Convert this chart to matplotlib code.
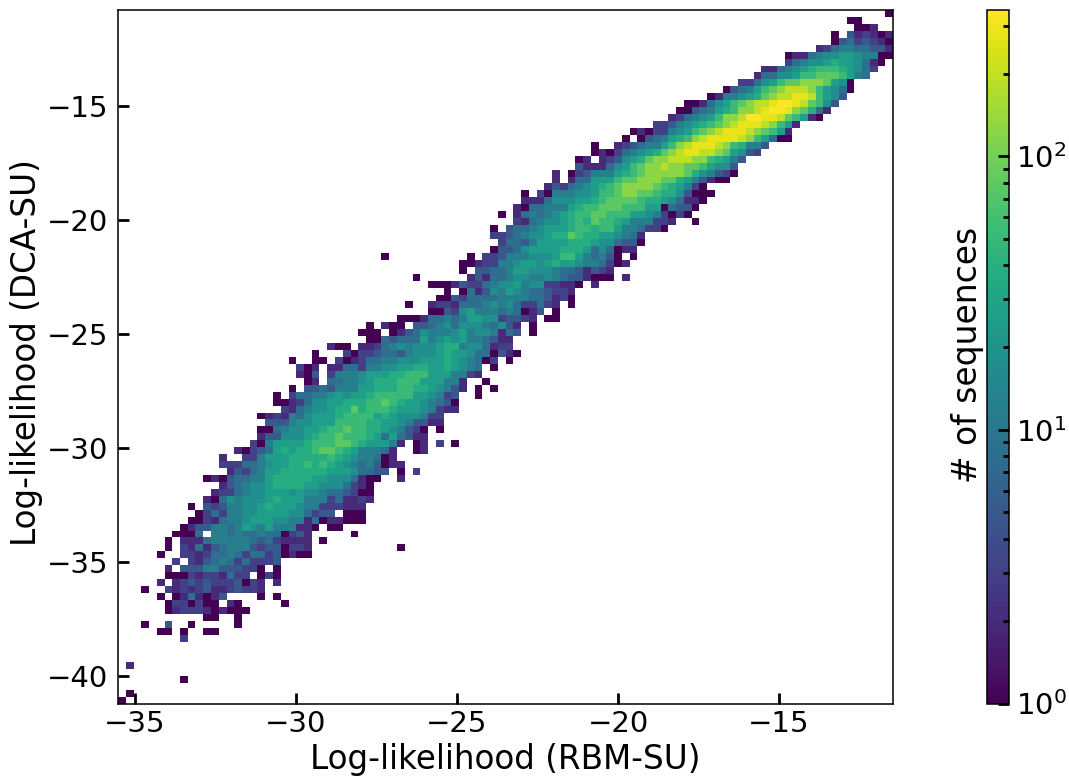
import numpy as np
import matplotlib
matplotlib.use('Agg')
import matplotlib.pyplot as plt
from matplotlib.colors import LogNorm

# count for each colour step, '.' = empty bin
LEVELS = {'1': 1, '2': 2, '3': 3, '4': 5, '5': 8, '6': 12, '7': 18, '8': 26,
          '9': 37, 'a': 52, 'b': 78, 'c': 125, 'd': 190, 'e': 275, 'f': 340}

N_BINS = 100
X_RANGE = (-35.53, -11.46)
Y_RANGE = (-41.23, -10.79)
X_TICKS = [-35, -30, -25, -20, -15]
Y_TICKS = [-40, -35, -30, -25, -20, -15]

# one entry per row of bins, top row first: first filled column, then the levels
HIST_ROWS = [
    (99, "1"),
    (94, "11"),
    (95, "112"),
    (92, "1.423212"),
    (92, "14534321"),
    (90, "2356655442"),
    (86, "12256778876611"),
    (86, "3567789887521"),
    (83, "2256789aaa98753"),
    (82, "255778aabbba865"),
    (80, "33578abbcccb871"),
    (78, "14568abcdddca8751"),
    (76, "1266789bcddeeda874"),
    (73, "112578abcddeffedba74"),
    (72, "1145689accdeffecb952"),
    (71, "235678accdffeedba821"),
    (69, "3346789abcdeeedca82"),
    (66, "12133678abcdeeedcba82"),
    (65, "1.145689acdeeeedca8511"),
    (61, "1..2345668acdeeedca9664"),
    (61, "121356789bcdeeddcb8743"),
    (59, "12.234789bccdddcca9864"),
    (59, "4222578abccdccbba8774"),
    (56, "2.13466689abcccccb976431"),
    (56, "2.255888abbcccbb9864211"),
    (55, "24356789abccccba98631"),
    (52, "1.31666778aabccbba9974111"),
    (52, "2225777889abbbba99875221"),
    (51, "215566689aabbbaaa8815441"),
    (49, "1.25656789aabbaaa88763131"),
    (51, "32567789a9baa98666332..1"),
    (48, "1.455678889aa9aa8665331"),
    (48, "3345677899ba99887652"),
    (49, "3554688889998775441"),
    (48, "1445788889998575122"),
    (34, "1..........1.3346667778aa865641.1"),
    (44, "1123366788789887665312"),
    (44, "1.445568877765542432"),
    (38, "1......2425567766765442111.2"),
    (40, "11124335677867733221.2"),
    (42, "1.152476876554332"),
    (41, "114355556666554231"),
    (37, "1..23325556767533532.1"),
    (40, "114378666565124.1"),
    (36, "111255656887734432.11"),
    (32, "1.211.44567577765742.1"),
    (31, "111.12457666786776254.1"),
    (32, "1154555867878665422"),
    (27, "211.22356767778996775233"),
    (25, "1...31334554677789887551421"),
    (22, "1..11.312355667778889876513.1"),
    (23, "312.22553667788998898765.1"),
    (23, "214.3666788899aaa8886632"),
    (24, "12.556678999aaa888662..1"),
    (22, "1.445466688999aa9987642.1.1"),
    (20, "1.35566787889aaaaa887634..1"),
    (20, "112357788999aaba98876541"),
    (21, "325677899b9aaa988876322"),
    (18, "12326578889aaaa898777633"),
    (19, "444677888aaaa9988764422"),
    (18, "115677889aabaa99876431.1"),
    (18, "24477789aabaaa98585422"),
    (17, "31688889aaabba988862.12.3.1"),
    (15, "2134589899abba9866652..12"),
    (13, "2..33688899999a98766512"),
    (13, "33355678899a9a9876564122"),
    (14, "243568899999988875544.1.3"),
    (11, "12145566899999887775211..2"),
    (13, "24567789999887775321"),
    (12, "233567788878776554311"),
    (11, "2157677789888666352232"),
    (9, "1.434667789888766333222"),
    (10, "135366778888775344.111"),
    (9, "11325667888776625122111"),
    (8, "124466568768666221.11"),
    (7, "1115.6656556551342.....1"),
    (6, "1.22256666654532222.1"),
    (6, "1.32524566643441332...........1"),
    (5, "1..33235565355341211"),
    (7, "3.324565353334"),
    (6, "2.44466444331.1"),
    (6, "11132332533.131"),
    (5, "2.234343334132.2"),
    (3, "1..3232342234332"),
    (5, "1.1252124....1.1"),
    (6, "1331311.21.....1"),
    (6, "12333212111"),
    (11, "11..1"),
    (3, "1..4..1.....1"),
    (5, "11.1..11"),
    (8, "3"),
    (0, ""),
    (0, ""),
    (0, ""),
    (1, "2"),
    (0, ""),
    (8, "1"),
    (0, ""),
    (1, "1"),
    (0, "1"),
]

counts = np.zeros((N_BINS, N_BINS))
for row, (start, levels) in enumerate(HIST_ROWS):
    for i, ch in enumerate(levels):
        if ch != '.':
            counts[N_BINS - 1 - row, start + i] = LEVELS[ch]

x_edges = np.linspace(X_RANGE[0], X_RANGE[1], N_BINS + 1)
y_edges = np.linspace(Y_RANGE[0], Y_RANGE[1], N_BINS + 1)

W, H = 1069, 777
fig = plt.figure(figsize=(W / 100, H / 100), dpi=100)
ax = fig.add_axes([118 / W, 1 - 704 / H, 775 / W, 694 / H])
cax = fig.add_axes([986.5 / W, 1 - 703.5 / H, 22.5 / W, 693.5 / H])

mesh = ax.pcolormesh(x_edges, y_edges, np.ma.masked_equal(counts, 0), cmap='viridis',
                     norm=LogNorm(vmin=1, vmax=342), rasterized=True)
ax.set_xlim(X_RANGE)
ax.set_ylim(Y_RANGE)
ax.set_xticks(X_TICKS)
ax.set_yticks(Y_TICKS)
ax.tick_params(direction='in', length=8, width=2, labelsize=21)
ax.tick_params(axis='x', pad=4)
ax.tick_params(axis='y', pad=7)
for spine in ax.spines.values():
    spine.set_linewidth(1.1)
ax.set_xlabel('Log-likelihood (RBM-SU)', fontsize=23.5, labelpad=4)
ax.set_ylabel('Log-likelihood (DCA-SU)', fontsize=23.5, labelpad=3, y=0.506)

cbar = fig.colorbar(mesh, cax=cax)
cbar.ax.tick_params(which='major', direction='in', length=8, width=2, labelsize=21, pad=5)
cbar.ax.tick_params(which='minor', direction='in', length=4.5, width=2)
cbar.outline.set_linewidth(1.1)
fig.text(968 / W, 1 - 355 / H, '# of sequences', rotation=90, fontsize=23.7, ha='center', va='center')

fig.savefig('out.png', dpi=100)
